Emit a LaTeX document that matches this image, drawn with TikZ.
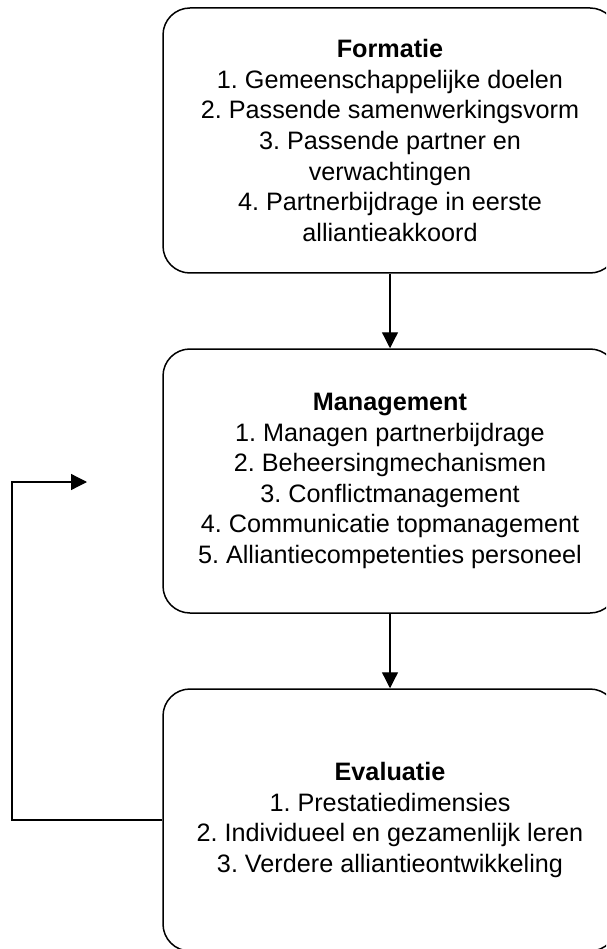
\documentclass[tikz,border=0pt]{standalone}
\usepackage{fontspec}
\setmainfont{Liberation Sans}
\usetikzlibrary{arrows.meta}
\frenchspacing
\begin{document}
\begin{tikzpicture}[x=1pt,y=1pt,
  phase/.style={draw=black, line width=1.5pt, rounded corners=27pt,
    minimum width=454pt, align=center, inner sep=0pt,
    font=\fontsize{25.2pt}{30.6pt}\selectfont},
  conn/.style={line width=1.3pt, -{Triangle[length=16pt,width=16pt]}}]
\clip (0,0) rectangle (606,-949);
\node[phase, minimum height=265pt] (form) at (390,-140.5)
  {\textbf{Formatie}\\1. Gemeenschappelijke doelen\\2. Passende samenwerkingsvorm\\3. Passende partner en\\verwachtingen\\4. Partnerbijdrage in eerste\\alliantieakkoord};
\node[phase, minimum height=264pt] (man) at (390,-481)
  {\textbf{Management}\\1. Managen partnerbijdrage\\2. Beheersingmechanismen\\3. Conflictmanagement\\4. Communicatie topmanagement\\5. Alliantiecompetenties personeel};
\node[phase, minimum height=262pt] (eval) at (390,-820)
  {\textbf{Evaluatie}\\1. Prestatiedimensies\\2. Individueel en gezamenlijk leren\\3. Verdere alliantieontwikkeling};
\draw[conn] (form) -- (man);
\draw[conn] (man) -- (eval);
\coordinate (fbend) at (87,-482);
\draw[conn] (eval.west) -- (12,-820) |- (fbend);
\end{tikzpicture}
\end{document}
